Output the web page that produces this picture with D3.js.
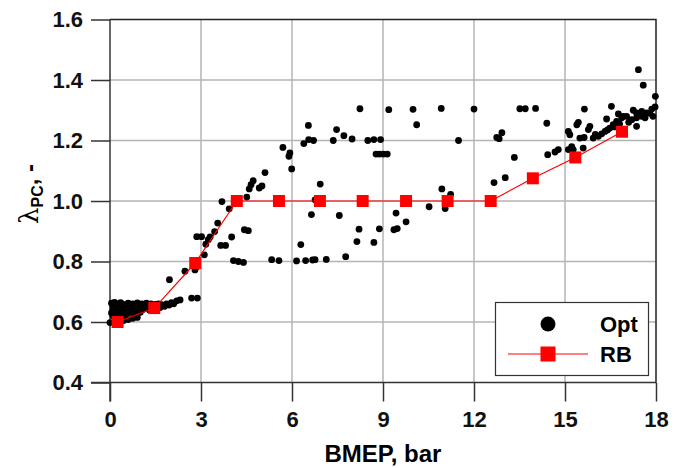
<!DOCTYPE html>
<html>
<head>
<meta charset="utf-8">
<script src="https://cdn.jsdelivr.net/npm/d3@7"></script>
<style>
body { margin: 0; background: #fff; }
text { font-family: Arial, "Liberation Sans", sans-serif; }
</style>
</head>
<body>
<svg width="685" height="468"></svg>
<script>
// tick values
let xTicks = [0, 3, 6, 9, 12, 15, 18];
let yTicks = [0.4, 0.6, 0.8, 1.0, 1.2, 1.4, 1.6];

// RB series (rule based)
let rbX = [0.25, 1.46, 2.81, 4.18, 5.57, 6.92, 8.33, 9.76, 11.13, 12.55, 13.94, 15.34, 16.88];
let rbY = [0.600, 0.646, 0.795, 1.0, 1.0, 1.0, 1.0, 1.0, 1.0, 1.0, 1.075, 1.144, 1.229];

// Opt scatter, [BMEP, lambda]
let optPoints = [
  [0.05,0.662],[0.15,0.665],[0.25,0.66],[0.35,0.664],[0.45,0.658],[0.6,0.662],[0.75,0.66],[0.9,0.663],
  [1.05,0.66],[1.2,0.662],[1.35,0.66],[1.5,0.658],[1.6,0.66],
  [0.1,0.65],[0.2,0.652],[0.3,0.648],[0.5,0.65],[0.7,0.652],[0.85,0.648],[1.0,0.65],[1.15,0.652],[1.3,0.65],[1.45,0.648],
  [0.1,0.64],[0.25,0.638],[0.4,0.642],[0.55,0.64],[0.7,0.638],[0.9,0.64],[1.1,0.642],[1.3,0.64],
  [0.05,0.63],[0.2,0.628],[0.4,0.632],[0.6,0.63],[0.8,0.628],[1.0,0.632],
  [0.1,0.62],[0.3,0.618],[0.5,0.622],
  [0.0,0.598],[0.15,0.6],[0.3,0.602],[0.45,0.605],[0.6,0.608],[0.75,0.612],[0.9,0.615],
  [1.65,0.648],[1.7,0.657],[1.8,0.652],[1.87,0.66],[1.95,0.656],[2.03,0.664],[2.1,0.66],[2.2,0.67],[2.31,0.673],
  [2.69,0.679],[2.88,0.679],
  [1.96,0.74],[2.47,0.768],[2.8,0.772],[2.86,0.783],[3.11,0.822],[3.16,0.857],[3.24,0.872],[3.30,0.881],
  [2.86,0.882],[3.02,0.882],[3.45,0.899],[3.55,0.927],[3.65,0.853],[3.81,0.853],[4.01,0.881],[4.43,0.905],[4.56,0.902],
  [4.07,0.803],[4.23,0.8],[4.4,0.797],[3.69,0.998],[3.93,0.974],[4.51,1.013],[4.59,1.04],[4.65,1.054],[4.72,1.067],
  [4.92,1.043],[5.01,1.05],[5.11,1.094],[5.70,1.177],[5.90,1.148],[5.93,1.159],[5.99,1.106],
  [5.33,0.806],[5.57,0.803],[6.15,0.802],[6.29,0.856],[6.45,0.803],[6.68,0.805],[6.76,0.806],[7.13,0.807],[7.77,0.816],
  [6.39,1.19],[6.54,1.25],[6.55,1.203],[6.71,1.2],[6.64,0.955],[6.76,1.004],[6.97,1.004],[6.93,1.056],[7.36,1.2],
  [7.47,1.236],[7.56,0.952],[7.71,1.216],[7.98,1.205],[8.14,0.866],[8.21,0.907],[8.24,1.305],[8.5,1.2],[8.7,1.203],
  [8.92,1.203],[8.7,0.863],[8.88,0.908],[8.77,1.155],[8.88,1.155],[9.01,1.155],[9.14,1.155],[9.19,1.302],[9.36,0.905],
  [9.47,0.909],[9.43,0.96],[9.76,0.931],[9.99,1.303],[10.11,1.252],[10.52,0.981],[10.92,1.306],[10.94,1.04],[11.05,0.975],
  [11.23,1.022],[11.49,1.2],[12.0,1.304],[12.66,1.061],[12.75,1.21],[12.83,1.206],[12.92,1.226],[13.03,1.077],[13.33,1.144],
  [13.51,1.305],[13.69,1.305],[14.03,1.306],[14.4,1.257],[14.43,1.153],
  [14.67,1.162],[14.78,1.17],[15.11,1.17],[15.22,1.18],[15.27,1.17],[15.6,1.175],[15.11,1.23],[15.16,1.219],[15.39,1.252],
  [15.44,1.26],[15.49,1.208],[15.63,1.21],[15.64,1.304],[15.77,1.236],[15.82,1.247],[15.93,1.208],[16.1,1.214],[16.21,1.222],
  [16.32,1.23],[16.37,1.271],[16.48,1.241],[16.53,1.313],[16.59,1.252],[16.70,1.263],[16.76,1.288],[16.87,1.275],[16.92,1.28],
  [17.03,1.28],[17.2,1.269],[17.25,1.3],[17.36,1.275],[17.36,1.291],[17.36,1.247],[17.42,1.434],[17.53,1.28],[17.53,1.296],
  [17.58,1.383],[17.64,1.275],[17.69,1.291],[17.86,1.304],[17.97,1.311],[17.98,1.346],
  [16.0,1.22],[16.4,1.235],[16.65,1.245],[16.8,1.255],[17.1,1.26],[17.8,1.29],[17.9,1.28]
];

let svg = d3.select("svg");
let pLeft = 110, pRight = 656, pTop = 19.5, pBottom = 382.5;
let tickLen = 19;

let x = d3.scaleLinear().domain([0, 18]).range([pLeft, pRight]);
let y = d3.scaleLinear().domain([0.4, 1.6]).range([pBottom, pTop]);

// grid
let grid = svg.append("g").attr("stroke", "#b4b4b4").attr("stroke-width", 1.5);
grid.selectAll(".gx").data(xTicks.slice(1, -1)).enter().append("line")
  .attr("x1", d => x(d)).attr("x2", d => x(d)).attr("y1", pTop).attr("y2", pBottom);
grid.selectAll(".gy").data(yTicks.slice(1, -1)).enter().append("line")
  .attr("y1", d => y(d)).attr("y2", d => y(d)).attr("x1", pLeft).attr("x2", pRight);

// axes
let xAxis = svg.append("g")
  .attr("transform", "translate(0," + pBottom + ")")
  .call(d3.axisBottom(x).tickValues(xTicks).tickSize(tickLen).tickPadding(10).tickFormat(d3.format("d")));
let yAxis = svg.append("g")
  .attr("transform", "translate(" + pLeft + ",0)")
  .call(d3.axisLeft(y).tickValues(yTicks).tickSize(tickLen).tickPadding(8).tickFormat(d3.format(".1f")));
[xAxis, yAxis].forEach(function(a) {
  a.select(".domain").attr("stroke", "#333").attr("stroke-width", 1.5);
  a.selectAll(".tick line").attr("stroke", "#333").attr("stroke-width", 1.5);
  a.selectAll(".tick text").attr("font-size", 22).attr("font-weight", "bold")
    .attr("font-family", "Arial, 'Liberation Sans', sans-serif").attr("fill", "#111");
});
// axis lines run on through the tick at the corner
yAxis.select(".domain").attr("d", "M0," + pTop + "V" + (pBottom + tickLen));
xAxis.select(".domain").attr("d", "M" + (pLeft - tickLen) + ",0H" + pRight);

// frame top/right
svg.append("path")
  .attr("d", "M" + pLeft + "," + pTop + "H" + pRight + "V" + pBottom)
  .attr("fill", "none").attr("stroke", "#222").attr("stroke-width", 1.5);

// opt points
svg.append("g").selectAll("circle").data(optPoints).enter().append("circle")
  .attr("cx", d => x(d[0])).attr("cy", d => y(d[1])).attr("r", 3.4).attr("fill", "#000");

// RB line + squares
let rb = rbX.map((v, i) => [v, rbY[i]]);
svg.append("path").datum(rb)
  .attr("d", d3.line().x(d => x(d[0])).y(d => y(d[1])))
  .attr("fill", "none").attr("stroke", "#ff0000").attr("stroke-width", 1.2);
svg.append("g").selectAll("rect").data(rb).enter().append("rect")
  .attr("x", d => x(d[0]) - 6).attr("y", d => y(d[1]) - 6)
  .attr("width", 12).attr("height", 12).attr("fill", "#ff0000");

// legend
let lg = svg.append("g");
lg.append("rect").attr("x", 495.5).attr("y", 302.5).attr("width", 153).attr("height", 73)
  .attr("fill", "#fff").attr("stroke", "#333").attr("stroke-width", 1.2);
lg.append("circle").attr("cx", 548).attr("cy", 324).attr("r", 7.5).attr("fill", "#000");
lg.append("text").attr("x", 600).attr("y", 332).attr("font-size", 22).attr("font-weight", "bold").text("Opt");
lg.append("line").attr("x1", 508).attr("x2", 588).attr("y1", 354).attr("y2", 354)
  .attr("stroke", "#ff0000").attr("stroke-width", 1.2);
lg.append("rect").attr("x", 540.5).attr("y", 346.5).attr("width", 15).attr("height", 15).attr("fill", "#ff0000");
lg.append("text").attr("x", 600).attr("y", 362).attr("font-size", 22).attr("font-weight", "bold").text("RB");

// axis titles
svg.append("text").attr("x", 383).attr("y", 462).attr("text-anchor", "middle")
  .attr("font-size", 24).attr("font-weight", "bold").text("BMEP, bar");

let yl = svg.append("text").attr("transform", "translate(38,194) rotate(-90)")
  .attr("text-anchor", "middle").attr("font-size", 24);
yl.append("tspan").attr("font-family", "'DejaVu Serif', serif").attr("font-size", 26).text("λ");
yl.append("tspan").attr("font-weight", "bold").attr("font-size", 16).attr("dy", 5).text("PC");
yl.append("tspan").attr("font-weight", "bold").attr("dy", -5).text(", -");
</script>
</body>
</html>
